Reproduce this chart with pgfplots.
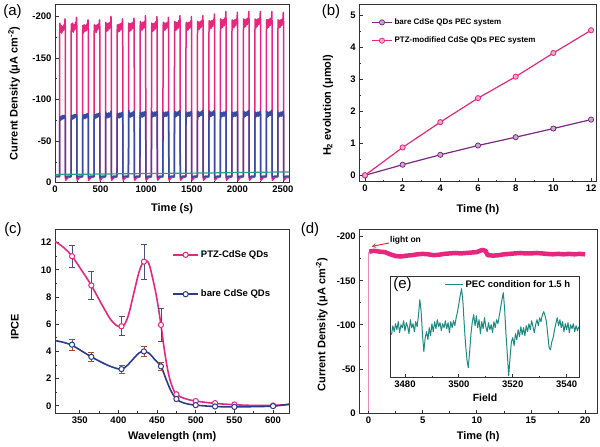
\documentclass[border=0pt]{standalone}
\usepackage{fontspec}
\setmainfont{Liberation Sans}
\usepackage{pgfplots}
\pgfplotsset{compat=1.18}

\definecolor{pk}{HTML}{E5287E}
\definecolor{nv}{HTML}{3A4AA0}
\definecolor{gr}{HTML}{2A9C8A}
\definecolor{pu}{HTML}{7A2A80}
\definecolor{nvc}{HTML}{2D3B88}
\definecolor{tl}{HTML}{1E8B83}
\definecolor{ebp}{HTML}{4B4F7C}
\definecolor{ebb}{HTML}{B04A30}
\definecolor{ax}{HTML}{333333}
\definecolor{arr}{HTML}{D23C3C}

\pgfplotsset{
  panel/.style={
    scale only axis,
    anchor=north west,
    axis line style={ax, line width=0.9pt},
    tick style={ax, line width=0.8pt},
    major tick length=3.5pt, minor tick length=2pt,
    tick align=inside,
    xtick pos=left, ytick pos=left,
    /pgf/number format/assume math mode=true,
    /pgf/number format/1000 sep={},
    tick label style={font=\fontsize{9.5}{11}\selectfont\bfseries},
    label style={font=\fontsize{11}{13}\selectfont\bfseries},
  },
}

\begin{document}
\begin{tikzpicture}
\path[use as bounding box] (0pt,0pt) rectangle (600pt,-447pt);

% ---------- (a) transient photocurrent
\begin{axis}[panel, at={(55pt,-4pt)}, width=234.3pt, height=178.7pt,
  xmin=0, xmax=2570, ymin=-215, ymax=0, y dir=reverse,
  xtick={0,500,...,2500}, ytick={-200,-150,...,0},
  minor x tick num=1, minor y tick num=1,
  xlabel={Time (s)}, ylabel={Current Density (μA cm\textsuperscript{-2})},
  xlabel style={at={(axis description cs:0.5,-0.147)}, anchor=center},
  ylabel style={at={(axis description cs:-0.175,0.5)}, anchor=center},
]
\addplot[pk, line width=1.5pt, line join=round] coordinates {
(0,-7)
(50,-7)(51,-176)(54,-192)(60,-181)(67,-189)(75,-180)(83,-188)(91,-183)(99,-190)(106,-185)(110,-197)(113,-187)(114,-6)(118,-3)(140,-6)
(176,-7)(177,-178)(180,-191)(186,-182)(193,-192)(201,-181)(209,-190)(217,-184)(225,-193)(232,-186)(236,-199)(239,-188)(240,-6)(244,-3)(266,-6)
(302,-7)(303,-177)(306,-189)(312,-180)(319,-190)(327,-182)(335,-189)(343,-183)(351,-191)(358,-185)(362,-196)(365,-187)(366,-6)(370,-3)(392,-6)
(428,-7)(429,-176)(432,-190)(438,-181)(445,-189)(453,-181)(461,-190)(469,-184)(477,-191)(484,-186)(488,-196)(491,-188)(492,-6)(496,-3)(518,-6)
(554,-7)(555,-178)(558,-193)(564,-182)(571,-191)(579,-183)(587,-192)(595,-185)(603,-193)(610,-187)(614,-200)(617,-189)(618,-6)(622,-3)(644,-6)
(680,-7)(681,-177)(684,-190)(690,-181)(697,-190)(705,-182)(713,-191)(721,-184)(729,-192)(736,-186)(740,-197)(743,-188)(744,-6)(748,-3)(770,-6)
(806,-7)(807,-178)(810,-192)(816,-182)(823,-191)(831,-183)(839,-192)(847,-185)(855,-193)(862,-187)(866,-198)(869,-189)(870,-6)(874,-3)(896,-6)
(932,-7)(933,-179)(936,-194)(942,-183)(949,-192)(957,-184)(965,-193)(973,-186)(981,-194)(988,-188)(992,-201)(995,-190)(996,-6)(1000,-3)(1022,-6)
(1058,-7)(1059,-178)(1062,-192)(1068,-182)(1075,-191)(1083,-183)(1091,-192)(1099,-185)(1107,-194)(1114,-187)(1118,-200)(1121,-189)(1122,-6)(1126,-3)(1148,-6)
(1184,-7)(1185,-178)(1188,-193)(1194,-183)(1201,-192)(1209,-184)(1217,-192)(1225,-186)(1233,-193)(1240,-188)(1244,-199)(1247,-189)(1248,-6)(1252,-3)(1274,-6)
(1310,-7)(1311,-179)(1314,-194)(1320,-183)(1327,-193)(1335,-184)(1343,-193)(1351,-186)(1359,-195)(1366,-188)(1370,-201)(1373,-190)(1374,-6)(1378,-3)(1400,-6)
(1436,-7)(1437,-178)(1440,-193)(1446,-183)(1453,-192)(1461,-184)(1469,-193)(1477,-186)(1485,-194)(1492,-188)(1496,-200)(1499,-189)(1500,-6)(1504,-3)(1526,-6)
(1562,-7)(1563,-179)(1566,-194)(1572,-184)(1579,-193)(1587,-185)(1595,-194)(1603,-187)(1611,-195)(1618,-189)(1622,-201)(1625,-190)(1626,-6)(1630,-3)(1652,-6)
(1688,-7)(1689,-180)(1692,-195)(1698,-185)(1705,-194)(1713,-186)(1721,-195)(1729,-188)(1737,-196)(1744,-190)(1748,-203)(1751,-191)(1752,-6)(1756,-3)(1778,-6)
(1814,-7)(1815,-181)(1818,-197)(1824,-186)(1831,-196)(1839,-187)(1847,-196)(1855,-189)(1863,-198)(1870,-191)(1874,-206)(1877,-192)(1878,-6)(1882,-3)(1904,-6)
(1940,-7)(1941,-180)(1944,-196)(1950,-186)(1957,-195)(1965,-187)(1973,-196)(1981,-189)(1989,-197)(1996,-191)(2000,-205)(2003,-192)(2004,-6)(2008,-3)(2030,-6)
(2066,-7)(2067,-181)(2070,-197)(2076,-187)(2083,-196)(2091,-188)(2099,-197)(2107,-190)(2115,-198)(2122,-192)(2126,-206)(2129,-193)(2130,-6)(2134,-3)(2156,-6)
(2192,-7)(2193,-181)(2196,-197)(2202,-186)(2209,-196)(2217,-188)(2225,-197)(2233,-190)(2241,-198)(2248,-192)(2252,-206)(2255,-193)(2256,-6)(2260,-3)(2282,-6)
(2318,-7)(2319,-180)(2322,-196)(2328,-186)(2335,-196)(2343,-187)(2351,-197)(2359,-189)(2367,-198)(2374,-191)(2378,-206)(2381,-192)(2382,-6)(2386,-3)(2408,-6)
(2444,-7)(2445,-180)(2448,-196)(2454,-186)(2461,-195)(2469,-187)(2477,-196)(2485,-189)(2493,-197)(2500,-191)(2504,-205)(2507,-192)(2508,-6)(2512,-3)(2534,-6)(2570,-6)
};
\addplot[nv, line width=1.5pt, line join=round] coordinates {
(0,-8)
(50,-8)(51,-72)(54,-79)(60,-75)(67,-80)(75,-76)(83,-81)(91,-77)(99,-81)(106,-78)(110,-80)(113,-78)(114,-9)(118,-6)(140,-8)
(176,-8)(177,-73)(180,-81)(186,-76)(193,-81)(201,-77)(209,-82)(217,-78)(225,-82)(232,-79)(236,-82)(239,-79)(240,-9)(244,-6)(266,-8)
(302,-8)(303,-73)(306,-81)(312,-77)(319,-82)(327,-77)(335,-82)(343,-78)(351,-83)(358,-79)(362,-83)(365,-80)(366,-9)(370,-6)(392,-8)
(428,-8)(429,-74)(432,-82)(438,-77)(445,-82)(453,-78)(461,-83)(469,-79)(477,-83)(484,-80)(488,-84)(491,-80)(492,-9)(496,-6)(518,-8)
(554,-8)(555,-74)(558,-85)(564,-78)(571,-83)(579,-78)(587,-84)(595,-79)(603,-84)(610,-80)(614,-86)(617,-81)(618,-9)(622,-6)(644,-8)
(680,-8)(681,-74)(684,-83)(690,-78)(697,-83)(705,-78)(713,-84)(721,-79)(729,-84)(736,-80)(740,-85)(743,-81)(744,-9)(748,-6)(770,-8)
(806,-8)(807,-75)(810,-87)(816,-79)(823,-84)(831,-79)(839,-84)(847,-80)(855,-85)(862,-81)(866,-86)(869,-81)(870,-9)(874,-6)(896,-8)
(932,-8)(933,-75)(936,-85)(942,-79)(949,-84)(957,-79)(965,-85)(973,-80)(981,-85)(988,-81)(992,-86)(995,-81)(996,-9)(1000,-6)(1022,-8)
(1058,-8)(1059,-75)(1062,-86)(1068,-79)(1075,-84)(1083,-80)(1091,-85)(1099,-80)(1107,-85)(1114,-81)(1118,-86)(1121,-81)(1122,-9)(1126,-6)(1148,-8)
(1184,-8)(1185,-75)(1188,-85)(1194,-79)(1201,-84)(1209,-80)(1217,-85)(1225,-80)(1233,-85)(1240,-81)(1244,-86)(1247,-81)(1248,-9)(1252,-6)(1274,-8)
(1310,-8)(1311,-75)(1314,-86)(1320,-79)(1327,-85)(1335,-80)(1343,-85)(1351,-81)(1359,-86)(1366,-81)(1370,-87)(1373,-82)(1374,-9)(1378,-6)(1400,-8)
(1436,-8)(1437,-75)(1440,-85)(1446,-79)(1453,-84)(1461,-80)(1469,-85)(1477,-80)(1485,-85)(1492,-81)(1496,-86)(1499,-81)(1500,-9)(1504,-6)(1526,-8)
(1562,-8)(1563,-75)(1566,-86)(1572,-79)(1579,-85)(1587,-80)(1595,-85)(1603,-81)(1611,-86)(1618,-81)(1622,-87)(1625,-82)(1626,-9)(1630,-6)(1652,-8)
(1688,-8)(1689,-75)(1692,-86)(1698,-79)(1705,-85)(1713,-80)(1721,-85)(1729,-81)(1737,-86)(1744,-81)(1748,-87)(1751,-82)(1752,-9)(1756,-6)(1778,-8)
(1814,-8)(1815,-75)(1818,-85)(1824,-79)(1831,-84)(1839,-80)(1847,-85)(1855,-80)(1863,-85)(1870,-81)(1874,-86)(1877,-81)(1878,-9)(1882,-6)(1904,-8)
(1940,-8)(1941,-75)(1944,-85)(1950,-79)(1957,-84)(1965,-80)(1973,-85)(1981,-80)(1989,-85)(1996,-81)(2000,-86)(2003,-81)(2004,-9)(2008,-6)(2030,-8)
(2066,-8)(2067,-75)(2070,-86)(2076,-79)(2083,-85)(2091,-80)(2099,-85)(2107,-81)(2115,-86)(2122,-81)(2126,-87)(2129,-82)(2130,-9)(2134,-6)(2156,-8)
(2192,-8)(2193,-75)(2196,-85)(2202,-79)(2209,-84)(2217,-80)(2225,-85)(2233,-80)(2241,-85)(2248,-81)(2252,-86)(2255,-81)(2256,-9)(2260,-6)(2282,-8)
(2318,-8)(2319,-75)(2322,-86)(2328,-79)(2335,-85)(2343,-80)(2351,-85)(2359,-81)(2367,-86)(2374,-81)(2378,-87)(2381,-82)(2382,-9)(2386,-6)(2408,-8)
(2444,-8)(2445,-75)(2448,-85)(2454,-79)(2461,-84)(2469,-80)(2477,-85)(2485,-80)(2493,-85)(2500,-81)(2504,-86)(2507,-81)(2508,-9)(2512,-6)(2534,-8)(2570,-8)
};
\addplot[gr, line width=1.2pt] coordinates {
(0,-10)(400,-10.3)(800,-10.8)(1200,-11.2)(1600,-11.6)(2000,-12.2)(2400,-12.8)(2570,-13)
};
\end{axis}

% ---------- (b) H2 evolution
\begin{axis}[panel, at={(359.3pt,-4pt)}, width=237.4pt, height=177.7pt,
  xmin=-0.3, xmax=12.3, ymin=-0.2, ymax=5.35,
  xtick={0,2,...,12}, ytick={0,1,...,5},
  minor x tick num=1, minor y tick num=1,
  xlabel={Time (h)}, ylabel={H\textsubscript{2} evolution (μmol)},
  xlabel style={at={(axis description cs:0.5,-0.159)}, anchor=center},
  ylabel style={at={(axis description cs:-0.132,0.43)}, anchor=center},
  legend style={draw=none, fill=none, inner sep=0pt, row sep=7pt,
    at={(axis description cs:0.05,0.845)}, anchor=west,
    font=\fontsize{8}{9}\selectfont\bfseries},
  legend cell align=left,
  legend image code/.code={\draw[mark repeat=2,mark phase=2,#1] plot coordinates {(0pt,0pt) (10pt,0pt) (20pt,0pt)};},
]
\addplot[pu, line width=1.2pt, mark=*, mark size=2.6pt, mark options={fill=pu!40, draw=pu, line width=0.8pt}] coordinates {
(0,0)(2,0.33)(4,0.64)(6,0.93)(8,1.19)(10,1.46)(12,1.74)
};
\addlegendentry{bare CdSe QDs PEC system}
\addplot[pk, line width=1.2pt, mark=*, mark size=2.6pt, mark options={fill=pk!40, draw=pk, line width=0.8pt}] coordinates {
(0,0)(2,0.87)(4,1.66)(6,2.41)(8,3.08)(10,3.82)(12,4.53)
};
\addlegendentry{PTZ-modified CdSe QDs PEC system}
\end{axis}

% ---------- (c) IPCE
\begin{axis}[panel, at={(55pt,-229pt)}, width=234.3pt, height=184.3pt,
  xmin=318, xmax=621, ymin=-0.55, ymax=13,
  xtick={350,400,...,600}, ytick={0,2,...,12},
  minor x tick num=1, minor y tick num=1,
  xlabel={Wavelength (nm)}, ylabel={IPCE},
  xlabel style={at={(axis description cs:0.5,-0.127)}, anchor=center},
  ylabel style={at={(axis description cs:-0.171,0.47)}, anchor=center},
  legend style={draw=none, fill=none, inner sep=0pt, row sep=27pt,
    at={(axis description cs:0.5,0.753)}, anchor=west,
    font=\fontsize{9.5}{11}\selectfont\bfseries},
  legend cell align=left,
  legend image code/.code={\draw[mark repeat=2,mark phase=2,#1] plot coordinates {(0pt,0pt) (12.5pt,0pt) (25pt,0pt)};},
]
\addplot[pk, line width=1.6pt, smooth, tension=0.6, forget plot] coordinates {
(318,12.1)(330,11.6)(340,11.0)(352,10.0)(365,8.85)(380,7.3)(392,6.2)(404,5.8)(412,6.5)(420,8.3)(427,9.9)(433,10.6)(439,10.5)(445,9.2)(450,7.8)(455,5.95)(460,3.9)(465,2.3)(470,1.35)(475,0.85)(485,0.55)(500,0.35)(525,0.18)(550,0.08)(575,0.03)(600,0.03)(621,0.1)
};
\addplot[nvc, line width=1.6pt, smooth, tension=0.6, forget plot] coordinates {
(318,4.8)(330,4.65)(340,4.45)(352,4.05)(365,3.6)(380,3.15)(392,2.85)(404,2.7)(412,3.0)(420,3.5)(427,3.9)(433,4.0)(440,3.85)(447,3.4)(455,2.9)(462,1.9)(468,1.1)(475,0.5)(485,0.2)(500,0.05)(525,-0.05)(550,-0.08)(575,-0.06)(600,-0.02)(621,0.12)
};
\addplot[only marks, mark=*, mark size=2.6pt, mark options={draw=pk, fill=white, line width=1pt}, forget plot,
  error bars/.cd, y dir=both, y explicit,
  error bar style={ebp, line width=0.8pt},
  error mark options={rotate=90, ebp, mark size=3pt, line width=0.8pt}] coordinates {
(340,11.0) +- (0,0.8)
(365,8.85) +- (0,1.0)
(404,5.85) +- (0,0.7)
(433,10.6) +- (0,1.3)
(455,5.95) +- (0,1.2)
};
\addplot[only marks, mark=*, mark size=2.6pt, mark options={draw=pk, fill=white, line width=1pt}, forget plot] coordinates {
(475,0.85)(500,0.35)(525,0.2)(550,0.1)(600,0.02)
};
\addplot[only marks, mark=*, mark size=2.6pt, mark options={draw=nvc, fill=white, line width=1pt}, forget plot,
  error bars/.cd, y dir=both, y explicit,
  error bar style={ebb, line width=0.8pt},
  error mark options={rotate=90, ebb, mark size=3pt, line width=0.8pt}] coordinates {
(340,4.5) +- (0,0.4)
(365,3.6) +- (0,0.3)
(404,2.7) +- (0,0.3)
(433,4.0) +- (0,0.4)
(455,2.9) +- (0,0.3)
};
\addplot[only marks, mark=*, mark size=2.6pt, mark options={draw=nvc, fill=white, line width=1pt}, forget plot] coordinates {
(475,0.5)(500,0.05)(525,-0.05)(550,-0.08)(600,-0.02)
};
\addlegendimage{pk, line width=1.6pt, mark=*, mark size=2.6pt, mark options={fill=white, line width=1pt}}
\addlegendentry{PTZ-CdSe QDs}
\addlegendimage{nvc, line width=1.6pt, mark=*, mark size=2.6pt, mark options={fill=white, line width=1pt}}
\addlegendentry{bare CdSe QDs}
\end{axis}

% ---------- (d) long-term photocurrent
\begin{axis}[panel, at={(359.3pt,-229pt)}, width=237.7pt, height=184pt,
  xmin=-0.86, xmax=21.1, ymin=-208.7, ymax=0, y dir=reverse,
  xtick={0,5,...,20}, ytick={-200,-150,...,0},
  minor x tick num=1, minor y tick num=1,
  xlabel={Time (h)}, ylabel={Current Density (μA cm\textsuperscript{-2})},
  xlabel style={at={(axis description cs:0.5,-0.129)}, anchor=center},
  ylabel style={at={(axis description cs:-0.158,0.48)}, anchor=center},
]
\addplot[pk!55, line width=0.8pt] coordinates {(0,-2)(0,-183)};
\addplot[pk, line width=4.5pt, line join=round] coordinates {
(0.05,-183)(0.5,-184)(1,-183)(1.5,-182.5)(2,-180)(2.5,-178)(3,-177.5)(3.5,-178.5)(4,-179)(4.5,-180)(5,-180.5)(5.5,-180)(6,-179)(6.5,-179.5)(7,-180.5)(7.5,-181)(8,-181.5)(8.5,-181)(9,-181.5)(9.5,-182)(10,-182.5)(10.5,-185)(10.8,-184)(11,-179)(11.5,-178.5)(12,-179)(12.5,-180)(13,-180.5)(13.5,-181)(14,-181.5)(14.5,-181)(15,-181)(15.5,-181.5)(16,-181)(16.5,-180.5)(17,-180)(17.5,-180.5)(18,-180)(18.5,-180.5)(19,-180)(19.5,-180.5)(20,-180)
};
\end{axis}

% ---------- (e) inset EPR
\begin{axis}[panel, at={(390.7pt,-276.7pt)}, width=188.6pt, height=101pt,
  xmin=3474.7, xmax=3544.7, ymin=-48, ymax=53,
  xtick={3480,3500,3520,3540}, ytick=\empty, minor x tick num=1,
  xlabel={Field},
  xlabel style={at={(axis description cs:0.5,-0.2)}, anchor=center, font=\fontsize{10.5}{12}\selectfont\bfseries},
  legend style={draw=none, fill=none, inner sep=0pt,
    at={(axis description cs:0.285,0.918)}, anchor=west,
    font=\fontsize{9.5}{11}\selectfont\bfseries},
  legend image code/.code={\draw[#1] (0pt,0pt) -- (18pt,0pt);},
]
\addplot[tl, line width=1pt, line join=round] coordinates {
(3475,-5)(3475.5,4)(3476,-2)(3476.5,6)(3477,0)(3477.5,8)(3478,-3)(3478.5,5)(3479,2)(3479.5,9)
(3480,-1)(3480.5,7)(3481,3)(3481.5,-4)(3482,10)(3482.5,2)(3483,6)(3483.5,-2)(3484,8)(3484.5,3)
(3485,14)(3485.5,30)(3486,18)(3486.5,-5)(3487,-22)(3487.5,-8)(3488,-2)(3488.5,-10)(3489,2)(3489.5,-6)
(3490,6)(3490.5,-2)(3491,8)(3491.5,1)(3492,10)(3492.5,3)(3493,7)(3493.5,-1)(3494,6)(3494.5,2)
(3495,9)(3495.5,1)(3496,7)(3496.5,-3)(3497,8)(3497.5,2)(3498,9)(3498.5,4)(3499,12)(3499.5,18)
(3500,26)(3500.5,34)(3501,41)(3501.5,28)(3502,5)(3502.5,-15)(3503,-30)(3503.5,-38)(3504,-22)(3504.5,-4)
(3505,8)(3505.5,15)(3506,4)(3506.5,14)(3507,2)(3507.5,10)(3508,-4)(3508.5,8)(3509,1)(3509.5,12)
(3510,3)(3510.5,-2)(3511,7)(3511.5,0)(3512,5)(3512.5,-3)(3513,8)(3513.5,2)(3514,10)(3514.5,6)
(3515,14)(3515.5,22)(3516,30)(3516.5,37)(3517,20)(3517.5,-5)(3518,-25)(3518.5,-46)(3519,-28)(3519.5,-12)
(3520,-8)(3520.5,-16)(3521,-4)(3521.5,-10)(3522,0)(3522.5,-7)(3523,3)(3523.5,-5)(3524,2)(3524.5,-6)
(3525,4)(3525.5,-2)(3526,6)(3526.5,0)(3527,9)(3527.5,3)(3528,-3)(3528.5,5)(3529,10)(3529.5,4)
(3530,12)(3530.5,8)(3531,15)(3531.5,18)(3532,14)(3532.5,8)(3533,-5)(3533.5,-18)(3534,-20)(3534.5,-12)
(3535,-8)(3535.5,0)(3536,6)(3536.5,12)(3537,4)(3537.5,10)(3538,2)(3538.5,8)(3539,-2)(3539.5,6)
(3540,0)(3540.5,7)(3541,-3)(3541.5,5)(3542,1)(3542.5,6)(3543,-2)(3543.5,4)(3544,-1)(3544.5,3)
};
\addlegendentry{PEC condition for 1.5 h}
\end{axis}

% panel letters and annotation
\node[font=\fontsize{15}{15}\selectfont] at (12.5pt,-11.5pt) {(a)};
\node[font=\fontsize{15}{15}\selectfont] at (331pt,-11.5pt) {(b)};
\node[font=\fontsize{15}{15}\selectfont] at (13pt,-230pt) {(c)};
\node[font=\fontsize{15}{15}\selectfont] at (310pt,-230pt) {(d)};
\node[font=\fontsize{15}{15}\selectfont] at (402.5pt,-285pt) {(e)};
\draw[arr, line width=1pt, -stealth] (389pt,-243pt) -- (371.5pt,-246.5pt);
\node[font=\fontsize{8.5}{10}\selectfont\bfseries, anchor=west, inner sep=0pt] at (390pt,-240.5pt) {light on};
\end{tikzpicture}
\end{document}
